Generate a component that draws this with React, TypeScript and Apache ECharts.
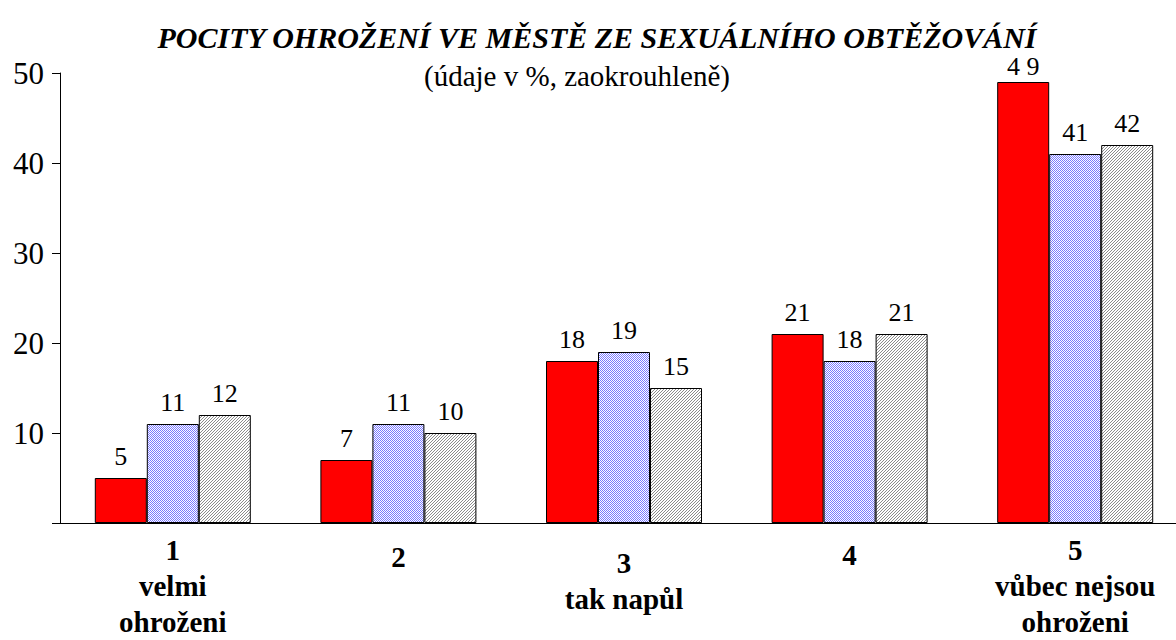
import React, { useEffect, useRef } from "react";
import * as echarts from "echarts";

const categories = ["1\nvelmi\nohroženi", "2", "3\ntak napůl", "4", "5\nvůbec nejsou\nohroženi"];
const categoryOffsets = [0, 7, 13, 5, 0];
const seriesRed = [5, 7, 18, 21, 49];
const seriesBlue = [11, 11, 19, 18, 41];
const seriesGray = [12, 10, 15, 21, 42];
const redLabels = ["5", "7", "18", "21", "4 9"];
const yTicks = [10, 20, 30, 40, 50];

function makeBluePattern(): HTMLCanvasElement {
  const c = document.createElement("canvas");
  c.width = 2;
  c.height = 2;
  const ctx = c.getContext("2d")!;
  ctx.fillStyle = "#ffffff";
  ctx.fillRect(0, 0, 2, 2);
  ctx.fillStyle = "#7a7aff";
  ctx.fillRect(0, 0, 1, 1);
  ctx.fillRect(1, 1, 1, 1);
  return c;
}

function makeHatchPattern(): HTMLCanvasElement {
  const c = document.createElement("canvas");
  c.width = 3;
  c.height = 3;
  const ctx = c.getContext("2d")!;
  ctx.fillStyle = "#ffffff";
  ctx.fillRect(0, 0, 3, 3);
  ctx.fillStyle = "#8c8c8c";
  for (let i = 0; i < 3; i++) {
    ctx.fillRect(i, 2 - i, 1, 1);
  }
  return c;
}

export default function App() {
  const ref = useRef<HTMLDivElement>(null);
  useEffect(() => {
    if (!ref.current) return;
    document.body.style.margin = "0";
    const chart = echarts.init(ref.current, null, { renderer: "svg" });
    const serif = "Liberation Serif";
    const labelStyle = {
      show: true,
      position: "top" as const,
      distance: 9,
      fontFamily: serif,
      fontSize: 26,
      color: "#000",
    };
    const border = { borderColor: "#000", borderWidth: 1 };
    chart.setOption({
      animation: false,
      backgroundColor: "#ffffff",
      textStyle: { fontFamily: serif },
      title: [
        {
          text: "POCITY OHROŽENÍ VE MĚSTĚ ZE SEXUÁLNÍHO OBTĚŽOVÁNÍ",
          left: 592,
          textAlign: "center",
          top: 17,
          textStyle: {
            fontFamily: serif,
            fontSize: 30,
            fontWeight: "bold",
            fontStyle: "italic",
            color: "#000",
          },
        },
        {
          text: "(údaje v %, zaokrouhleně)",
          left: 572,
          textAlign: "center",
          top: 56,
          textStyle: {
            fontFamily: serif,
            fontSize: 29,
            fontWeight: "normal",
            color: "#000",
          },
        },
      ],
      grid: { left: 60, right: 0, top: 73, bottom: 112, containLabel: false },
      xAxis: {
        type: "category",
        data: categories.map((c, i) => ({
          value: c,
          textStyle: { padding: [categoryOffsets[i], 0, 0, 0] },
        })),
        axisLine: { show: true, lineStyle: { color: "#000", width: 1 } },
        axisTick: { show: false },
        axisLabel: {
          interval: 0,
          margin: 9,
          verticalAlign: "top",
          fontFamily: serif,
          fontSize: 29,
          fontWeight: "bold",
          lineHeight: 36,
          color: "#000",
        },
      },
      yAxis: {
        type: "value",
        min: 0,
        max: 50,
        interval: 10,
        splitLine: { show: false },
        axisLine: { show: true, lineStyle: { color: "#000", width: 1 } },
        axisTick: {
          show: true,
          length: 8,
          lineStyle: { color: "#000" },
        },
        axisLabel: {
          margin: 16,
          fontFamily: serif,
          fontSize: 31,
          color: "#000",
          formatter: (v: number) => (yTicks.includes(v) ? String(v) : ""),
        },
      },
      series: [
        {
          type: "bar",
          barWidth: 52,
          barGap: "0%",
          data: seriesRed.map((v, i) => ({
            value: v,
            label: i === seriesRed.length - 1 ? { formatter: redLabels[i], distance: 3 } : { formatter: redLabels[i] },
          })),
          itemStyle: { color: "#ff0000", ...border },
          label: labelStyle,
        },
        {
          type: "bar",
          barWidth: 52,
          barGap: "0%",
          data: seriesBlue,
          itemStyle: { color: { image: makeBluePattern(), repeat: "repeat" }, ...border },
          label: labelStyle,
        },
        {
          type: "bar",
          barWidth: 52,
          barGap: "0%",
          data: seriesGray,
          itemStyle: { color: { image: makeHatchPattern(), repeat: "repeat" }, ...border },
          label: labelStyle,
        },
      ],
    });
    return () => chart.dispose();
  }, []);
  return (
    <div style={{ width: 1176, height: 640, overflow: "hidden" }}>
      <div ref={ref} style={{ width: 1188, height: 640 }} />
    </div>
  );
}
